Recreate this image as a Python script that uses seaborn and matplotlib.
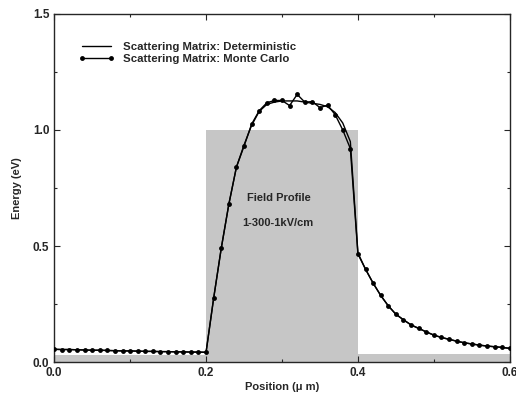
import numpy as np
import pandas as pd
import matplotlib
matplotlib.use("Agg")
import matplotlib.pyplot as plt
import seaborn as sns

# position grid (um) for both curves
position = np.round(np.arange(0, 0.605, 0.01), 2)

monte_carlo = [
    0.055, 0.054, 0.054, 0.053, 0.052, 0.051, 0.051, 0.050, 0.049, 0.048,
    0.048, 0.047, 0.046, 0.046, 0.045, 0.045, 0.044, 0.044, 0.043, 0.043,
    0.042,
    0.275, 0.49, 0.68, 0.84, 0.93, 1.025, 1.083, 1.117, 1.127, 1.127,
    1.105, 1.153, 1.12, 1.122, 1.096, 1.107, 1.066, 1.0, 0.92, 0.465,
    0.40, 0.34, 0.287, 0.242, 0.206, 0.182, 0.16, 0.145, 0.13, 0.116,
    0.106, 0.098, 0.09, 0.083, 0.078, 0.073, 0.069, 0.066, 0.063, 0.059,
]

deterministic = [
    0.055, 0.054, 0.054, 0.053, 0.052, 0.051, 0.051, 0.050, 0.049, 0.048,
    0.048, 0.047, 0.046, 0.046, 0.045, 0.045, 0.044, 0.044, 0.043, 0.043,
    0.042,
    0.275, 0.49, 0.68, 0.84, 0.935, 1.02, 1.08, 1.11, 1.12, 1.125,
    1.125, 1.125, 1.12, 1.115, 1.11, 1.10, 1.075, 1.03, 0.95, 0.47,
    0.40, 0.34, 0.287, 0.242, 0.206, 0.182, 0.16, 0.145, 0.13, 0.116,
    0.106, 0.098, 0.09, 0.083, 0.078, 0.073, 0.069, 0.066, 0.063, 0.059,
]

# field profile 1-300-1 kV/cm, drawn as shaded background
field_x = [0.0, 0.2, 0.4, 0.6]
field_level = [0.03, 1.0, 0.035, 0.035]

sns.set_style("ticks")
plt.rcParams["font.family"] = ["Liberation Sans", "DejaVu Sans"]
plt.rcParams["font.weight"] = "bold"
plt.rcParams["xtick.direction"] = "in"
plt.rcParams["ytick.direction"] = "in"

fig = plt.figure(figsize=(5.16, 3.97), dpi=100)
ax = fig.add_axes([0.105, 0.088, 0.883, 0.877])

ax.fill_between(field_x, field_level, step="post", color="#c6c6c6", lw=0, zorder=0)

df = pd.DataFrame({"x": position, "det": deterministic, "mc": monte_carlo})
sns.lineplot(data=df, x="x", y="det", ax=ax, color="black", lw=1.0,
             label="Scattering Matrix: Deterministic", zorder=2)
sns.lineplot(data=df, x="x", y="mc", ax=ax, color="black", lw=1.0,
             marker="o", markersize=3.5, markeredgewidth=0,
             label="Scattering Matrix: Monte Carlo", zorder=3)

ax.text(0.254, 0.695, "Field Profile", fontsize=8, fontweight="bold")
ax.text(0.248, 0.585, "1-300-1kV/cm", fontsize=8, fontweight="bold")

ax.set_xlim(0, 0.6)
ax.set_ylim(0, 1.5)
ax.set_xticks([0.0, 0.2, 0.4, 0.6])
ax.set_xticklabels(["0.0", "0.2", "0.4", "0.6"])
ax.set_yticks([0.0, 0.5, 1.0, 1.5])
ax.set_yticklabels(["0.0", "0.5", "1.0", "1.5"])
ax.set_xticks([0.1, 0.3, 0.5], minor=True)
ax.set_yticks([0.25, 0.75, 1.25], minor=True)
ax.tick_params(which="both", top=True, right=True, labelsize=8.5)
ax.tick_params(which="major", length=4, width=0.8)
ax.tick_params(which="minor", length=2.5, width=0.8)
for s in ax.spines.values():
    s.set_linewidth(1.0)

ax.set_xlabel("Position (\u03bc m)", fontsize=8, fontweight="bold", labelpad=2)
ax.set_ylabel("Energy (eV)", fontsize=8, fontweight="bold", labelpad=8)

leg = ax.legend(loc="upper left", bbox_to_anchor=(0.03, 0.95), frameon=False,
                fontsize=8.2, handlelength=3.2, handletextpad=0.7,
                labelspacing=0.25, numpoints=2)

fig.savefig("out.png", dpi=100)
